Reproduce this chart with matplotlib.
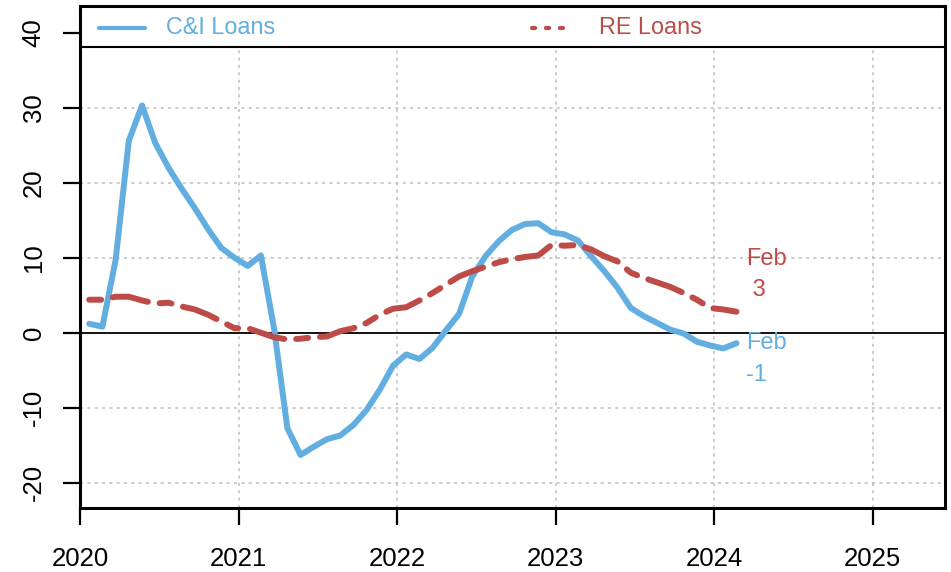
import matplotlib
matplotlib.use("Agg")
import matplotlib.pyplot as plt
import pandas as pd

plt.rcParams['font.family'] = ['Liberation Sans', 'DejaVu Sans']

# year-over-year growth in bank loans (%), monthly Jan 2020 - Feb 2024
ci_loans = [1.2, 0.8, 9.7, 25.6, 30.3, 25.3, 22.0, 19.2, 16.6, 13.8,
            11.3, 10.0, 8.9, 10.3, 0.5, -12.7, -16.3, -15.2, -14.2, -13.7,
            -12.3, -10.3, -7.6, -4.4, -2.9, -3.5, -2.0, 0.3, 2.5, 7.5,
            10.2, 12.2, 13.7, 14.5, 14.6, 13.4, 13.1, 12.3, 10.2, 8.2,
            6.0, 3.3, 2.2, 1.3, 0.4, -0.1, -1.2, -1.7, -2.1, -1.4]
re_loans = [4.4, 4.4, 4.8, 4.8, 4.3, 3.9, 4.0, 3.5, 3.1, 2.4,
            1.5, 0.6, 0.6, 0.0, -0.6, -0.9, -0.8, -0.6, -0.5, 0.2,
            0.6, 1.3, 2.4, 3.2, 3.4, 4.3, 5.3, 6.4, 7.5, 8.2,
            8.8, 9.4, 9.8, 10.1, 10.3, 11.7, 11.6, 11.7, 11.1, 10.2,
            9.5, 8.0, 7.3, 6.7, 6.1, 5.3, 4.4, 3.3, 3.1, 2.8]
year_ticks = [2020, 2021, 2022, 2023, 2024, 2025]
y_ticks = [-20, -10, 0, 10, 20, 30, 40]
last_month = "Feb"

blue = "#62AEE0"
red = "#BD4B47"

months = pd.date_range("2020-01-01", periods=len(ci_loans), freq="MS")
x = months.year + (months.month - 1) / 12 + 0.058

fig = plt.figure(figsize=(9.51, 5.72), dpi=100)
ax = fig.add_axes([80 / 951, 64 / 572, 865 / 951, 502 / 572])
ax.set_xlim(2020, 2025.457)
ax.set_ylim(-23.37, 43.56)
legend_bottom = 38.03

# grid (dotted grey), stops under the legend strip
for yv in y_ticks:
    if yv != 0 and yv < legend_bottom:
        ax.axhline(yv, color="#BEBEBE", lw=1.1, ls=(0, (2, 2.8)), zorder=0.5)
for xv in year_ticks[1:]:
    ax.plot([xv, xv], [-23.37, legend_bottom], color="#BEBEBE", lw=1.1,
            ls=(0, (2, 2.8)), zorder=0.5)
ax.axhline(0, color="black", lw=1.3, zorder=1)

ax.plot(x, ci_loans, color=blue, lw=4.3, solid_capstyle="round",
        solid_joinstyle="round", zorder=3)
ax.plot(x, re_loans, color=red, lw=4.3, dashes=(2, 2, 6, 2),
        dash_capstyle="round", dash_joinstyle="round", zorder=3)

# end labels
ax.text(x[-1] + 0.06, re_loans[-1] + 4.96, f"{last_month}\n{re_loans[-1]:2.0f}",
        color=red, fontsize=17, ha="left", va="center", linespacing=1.55)
ax.text(x[-1] + 0.06, ci_loans[-1] - 2.1, f"{last_month}\n{ci_loans[-1]:2.0f}",
        color=blue, fontsize=17, ha="left", va="center", linespacing=1.55)

# legend strip across the top
ax.axhline(legend_bottom, color="black", lw=1.5, zorder=2)
ly = 0.957
ax.plot([0.0225, 0.0755], [ly, ly], transform=ax.transAxes, color=blue,
        lw=3, solid_capstyle="round")
ax.text(0.0995, ly, "C&I Loans", transform=ax.transAxes, color=blue,
        fontsize=16.8, ha="left", va="center")
ax.plot([0.5225, 0.567], [ly, ly], transform=ax.transAxes, color=red,
        lw=3, dashes=(0.75, 2.6), dash_capstyle="round")
ax.text(0.6, ly, "RE Loans", transform=ax.transAxes, color=red,
        fontsize=16.8, ha="left", va="center")

ax.set_xticks(year_ticks)
ax.set_xticklabels([str(v) for v in year_ticks])
ax.set_yticks(y_ticks)
ax.set_yticklabels([str(v) for v in y_ticks], rotation=90, va="center")
ax.tick_params(axis="both", length=12.2, width=1.6, labelsize=18.5,
               direction="out", color="black")
ax.tick_params(axis="x", pad=16)
ax.tick_params(axis="y", pad=12.5)
for s in ax.spines.values():
    s.set_linewidth(2.2)

fig.savefig("out.png", dpi=100)
